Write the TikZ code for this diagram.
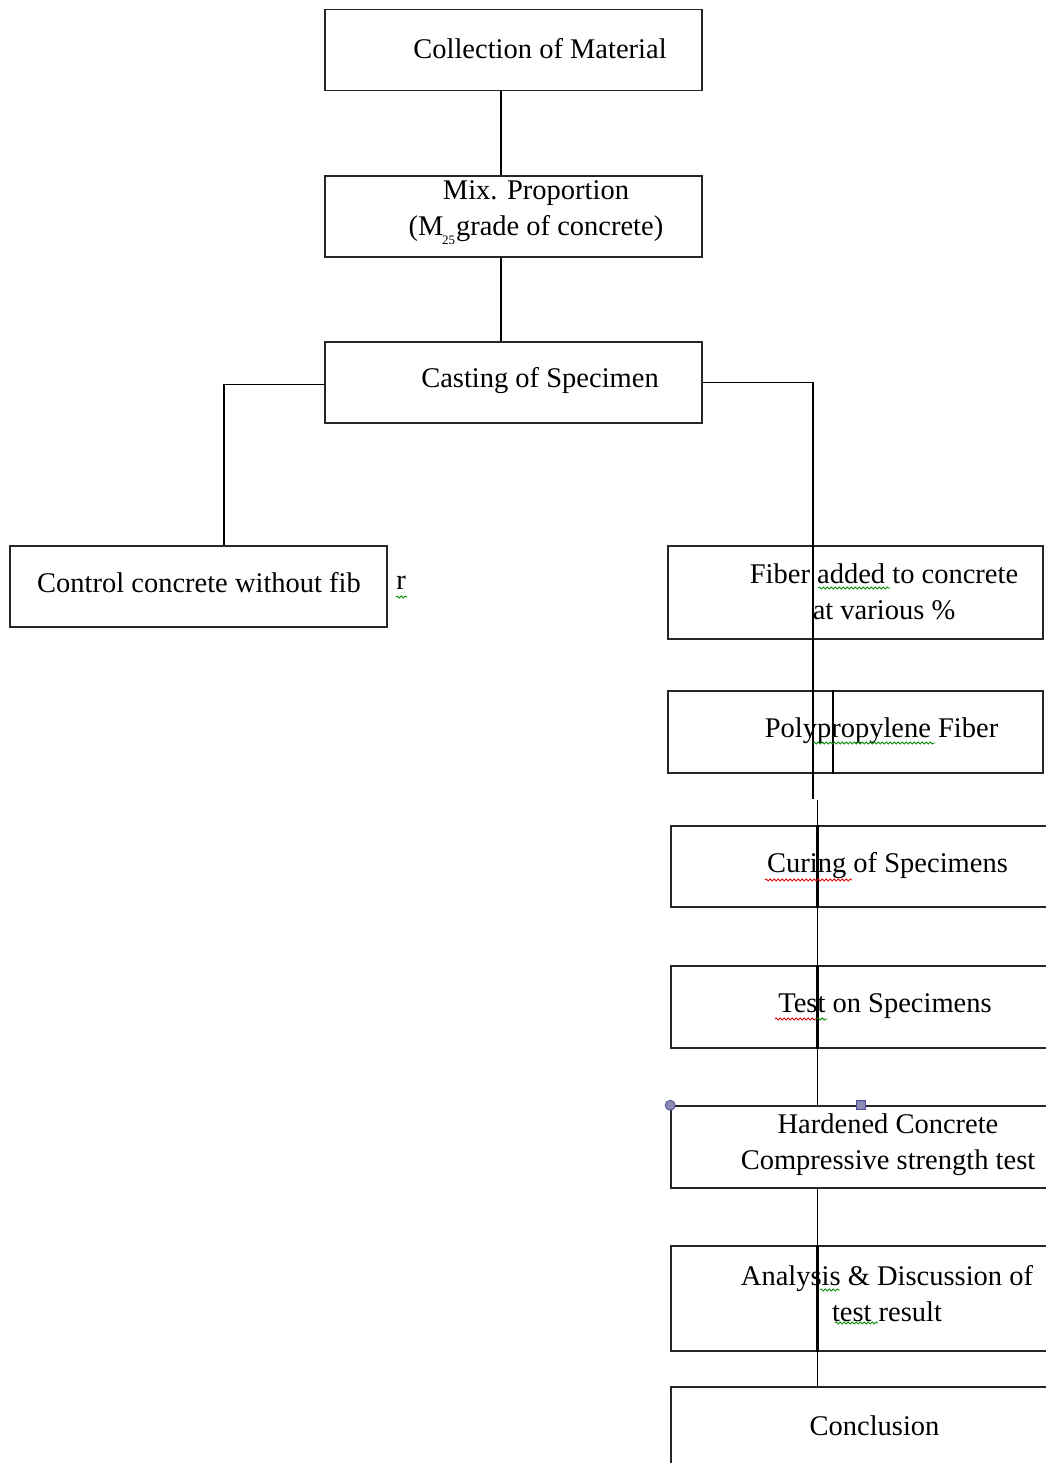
\documentclass[tikz,border=0pt]{standalone}
\usepackage{fontspec}
\setmainfont{Liberation Serif}
\usetikzlibrary{positioning, decorations.pathmorphing}

\newcommand{\gradesub}[1]{\kern-1.5pt\raisebox{-9pt}{\fontsize{13}{13}\selectfont #1}\kern1pt}

\begin{document}
\begin{tikzpicture}[x=1pt,y=-1pt,line width=1.5pt,
    box node/.style={draw=black!85,rectangle,inner sep=0pt,minimum width=377pt,minimum height=81pt},
    text node/.style={align=center,inner sep=0pt,font=\fontsize{28.5}{36}\selectfont},
    spell red/.style={draw=red!85!black,line width=0.8pt,decorate,decoration={snake,amplitude=1.1pt,segment length=4pt}},
    spell green/.style={draw=green!55!black,line width=0.8pt,decorate,decoration={snake,amplitude=1.1pt,segment length=4pt}},
    handle/.style={draw=blue!35!gray!90!black,fill=blue!20!gray!75,line width=0.8pt,inner sep=0pt}]

\useasboundingbox (0,0) rectangle (1045,1463);

\node[box node]                                           (0)  at (513.5,50)    {};
\node[box node]                                           (1)  at (513.5,216.5) {};
\node[box node]                                           (2)  at (513.5,382.5) {};
\node[box node]                                           (3)  at (198.5,586.5) {};
\node[box node,minimum width=375pt,minimum height=93pt]   (4)  at (855.5,592.5) {};
\node[box node,minimum width=375pt,minimum height=82pt]   (5)  at (855.5,732)   {};
\node[box node,minimum width=390pt]                       (6)  at (866,866.5)   {};
\node[box node,minimum width=390pt,minimum height=82pt]   (7)  at (866,1007)    {};
\node[box node,minimum width=390pt,minimum height=105pt]  (9)  at (866,1298.5)  {};
\node[box node,minimum width=390pt,minimum height=90pt]   (10) at (866,1432)    {};

\coordinate (a) at (813,799);
\coordinate (b) at (817.5,800);

\draw ([xshift=-12.5pt]0.south) -- ([xshift=-12.5pt]1.north);
\draw ([xshift=-12.5pt]1.south) -- ([xshift=-12.5pt]2.north);
\draw ([yshift=-2pt]2.west) -| ([xshift=25.5pt]3.north);
\draw (2.east) -| (a);
\draw (b) -- (b |- 10.north);

% lines doubled inside the boxes
\draw[line width=2.8pt] (5.north -| a) -- (5.south -| a);
\draw ([xshift=-22.5pt]5.north) -- ([xshift=-22.5pt]5.south);
\draw[line width=2.8pt] (6.north -| b) -- (6.south -| b);
\draw[line width=2.8pt] (7.north -| b) -- (7.south -| b);
\draw[line width=2.8pt] (9.north -| b) -- (9.south -| b);

\node[box node,fill=white,minimum width=390pt,minimum height=82pt] (8) at (866,1147) {};
\node[handle,circle,minimum size=10pt]   (h1) at (8.north west) {};
\node[handle,rectangle,minimum size=9pt] (h2) at ([xshift=-5pt]8.north) {};

\node[text node] (0t)  at (540,49)    {Collection of Material};
\node[text node] (1t)  at (536,213)   {Mix. Proportion\\(M\gradesub{25}grade of concrete)};
\node[text node] (2t)  at (540,381)   {Casting of Specimen};
\node[text node] (3t)  at (199,583)   {Control concrete without fib};
\node[text node] (3r)  at (401,583)   {r};
\node[text node] (4t)  at (884,592)   {Fiber added to concrete\\at various \%};
\node[text node] (5t)  at (881.5,731) {Polypropylene Fiber};
\node[text node] (6t)  at (887.5,866) {Curing of Specimens};
\node[text node] (7t)  at (885,1006)  {Test on Specimens};
\node[text node] (8t)  at (888,1145)  {Hardened Concrete\\Compressive strength test};
\node[text node] (9t)  at (887,1294)  {Analysis \& Discussion of\\test result};
\node[text node] (10t) at (874.5,1426) {Conclusion};

% spelling marks
\draw[spell green] (396,597) -- (407,597);
\draw[spell green] (818,588) -- (890,588);
\draw[spell green] (813,743) -- (935,743);
\draw[spell red]   (765,880) -- (852,880);
\draw[spell red]   (775,1019) -- (817,1019);
\draw[spell green] (817,1019) -- (827,1019);
\draw[spell green] (820,1290) -- (840,1290);
\draw[spell green] (835,1323) -- (878,1323);
\end{tikzpicture}
\end{document}
